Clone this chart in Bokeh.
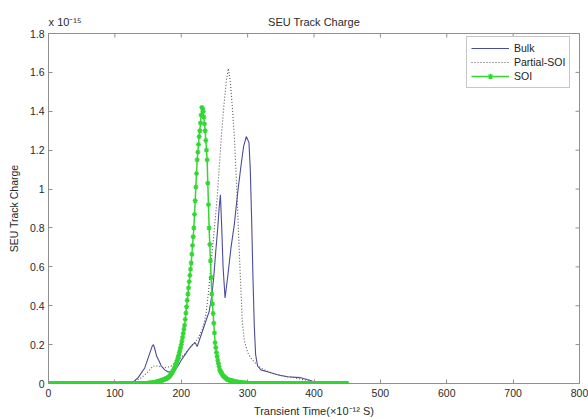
import math
from bokeh.plotting import figure
from bokeh.models import Range1d, FixedTicker, LinearAxis
from bokeh.embed import file_html
from bokeh.resources import INLINE

# ---------------- data (time in 1e-12 s, charge in 1e-15 units) ----------------
bulk_time = [0, 120, 127, 135, 145, 152, 156, 158, 160, 163, 166, 170, 175, 180, 188,
             195, 200, 206, 212, 217, 221, 224, 228, 232, 237, 242, 246, 249, 252, 255,
             257, 259, 261, 263, 266, 270, 275, 280, 285, 290, 294, 298, 302, 304, 306,
             308, 310, 312, 315, 320, 330, 345, 360, 380, 395, 405, 450]
bulk_charge = [0, 0, 0.005, 0.03, 0.08, 0.15, 0.19, 0.20, 0.18, 0.14, 0.12, 0.09, 0.07, 0.06, 0.06,
               0.09, 0.12, 0.15, 0.18, 0.20, 0.21, 0.19, 0.23, 0.27, 0.32, 0.37, 0.45, 0.55, 0.68, 0.80,
               0.90, 0.97, 0.80, 0.60, 0.44, 0.55, 0.70, 0.82, 0.98, 1.12, 1.22, 1.27, 1.24, 1.10, 0.85,
               0.55, 0.30, 0.15, 0.09, 0.07, 0.06, 0.045, 0.035, 0.03, 0.015, 0.0, 0.0]

psoi_time = [0, 120, 130, 140, 150, 158, 165, 175, 185, 195, 205, 215, 225, 232, 237,
             241, 245, 250, 254, 257, 260, 264, 268, 271, 274, 277, 280, 283, 286, 289,
             292, 295, 300, 305, 310, 320, 335, 350, 370, 390, 405, 450]
psoi_charge = [0, 0, 0.01, 0.03, 0.06, 0.09, 0.09, 0.08, 0.09, 0.12, 0.15, 0.19, 0.23, 0.28, 0.35,
               0.47, 0.62, 0.80, 0.95, 1.10, 1.25, 1.42, 1.56, 1.62, 1.55, 1.42, 1.27, 1.05, 0.80, 0.55,
               0.32, 0.22, 0.16, 0.13, 0.11, 0.08, 0.055, 0.04, 0.03, 0.015, 0.0, 0.0]

soi_time = list(range(0, 451))
soi_flat_before = [0.0] * 150          # t = 0 .. 149
soi_rise_low = [0.001, 0.001, 0.002, 0.002, 0.002, 0.003, 0.003, 0.004, 0.004, 0.005,
                0.005, 0.006, 0.007, 0.008, 0.009, 0.010, 0.011, 0.012, 0.013, 0.014,
                0.015, 0.016, 0.018, 0.019, 0.021, 0.022, 0.024, 0.025, 0.027, 0.028]  # 150 .. 179
soi_peak = [0.030, 0.033, 0.036, 0.040, 0.045, 0.050, 0.055, 0.061, 0.067, 0.073,
            0.080, 0.089, 0.099, 0.109, 0.119, 0.130, 0.143, 0.157, 0.171, 0.185,
            0.200, 0.218, 0.238, 0.258, 0.279, 0.300, 0.330, 0.362, 0.395, 0.428,
            0.460, 0.492, 0.524, 0.556, 0.588, 0.620, 0.665, 0.710, 0.755, 0.800,
            0.870, 0.940, 1.010, 1.080, 1.150, 1.190, 1.230, 1.270, 1.300, 1.340,
            1.380, 1.420, 1.415, 1.400, 1.370, 1.335, 1.300, 1.250, 1.200, 1.150,
            1.030, 0.920, 0.800, 0.715, 0.630, 0.545, 0.460, 0.410, 0.360, 0.310,
            0.260, 0.210, 0.185, 0.160, 0.140, 0.120, 0.103, 0.087, 0.070, 0.064,
            0.058, 0.052, 0.046, 0.040, 0.037, 0.034, 0.031, 0.028, 0.025, 0.022,
            0.020]  # 180 .. 270
soi_tail = [0.019, 0.018, 0.017, 0.016, 0.015, 0.014, 0.013, 0.012, 0.011, 0.010,
            0.009, 0.009, 0.008, 0.007, 0.007, 0.006, 0.006, 0.005, 0.005, 0.004,
            0.004, 0.003, 0.003, 0.003, 0.002, 0.002, 0.002, 0.001, 0.001, 0.001]  # 271 .. 300
soi_flat_after = [0.0] * 150           # 301 .. 450
soi_charge = soi_flat_before + soi_rise_low + soi_peak + soi_tail + soi_flat_after

x_ticks = [0, 100, 200, 300, 400, 500, 600, 700, 800]
y_ticks = [0, 0.2, 0.4, 0.6, 0.8, 1, 1.2, 1.4, 1.6, 1.8]
y_tick_labels = ["0", "0.2", "0.4", "0.6", "0.8", "1", "1.2", "1.4", "1.6", "1.8"]
x_min, x_max = 0, 800
y_min, y_max = 0, 1.8

title_text = "SEU Track Charge"
x_label = "Transient Time(×10⁻¹² S)"
y_label = "SEU Track Charge"
y_multiplier = "x 10⁻¹⁵"

# ---------------- styling ----------------
FONT = "Liberation Sans"
AXIS_COLOR = "#8f8f8f"
TEXT_COLOR = "#2a2a2a"
BULK_COLOR = "#4b4b9b"
PSOI_COLOR = "#555555"
SOI_COLOR = "#33d633"

p = figure(frame_width=531, frame_height=350,
           x_range=Range1d(x_min, x_max), y_range=Range1d(y_min, y_max),
           output_backend="svg", toolbar_location=None,
           min_border_left=48, min_border_right=9, min_border_top=33, min_border_bottom=36)

p.xgrid.visible = False
p.ygrid.visible = False
p.outline_line_color = AXIS_COLOR
p.background_fill_color = "white"
p.border_fill_color = "white"
p.title.visible = False

def style_axis(ax):
    ax.axis_line_color = AXIS_COLOR
    ax.major_tick_line_color = AXIS_COLOR
    ax.major_tick_in = 4
    ax.major_tick_out = 0
    ax.minor_tick_line_color = None
    ax.major_label_text_font = FONT
    ax.major_label_text_font_size = "10.5px"
    ax.major_label_text_color = TEXT_COLOR
    ax.axis_label_text_font = FONT
    ax.axis_label_text_font_style = "normal"
    ax.axis_label_text_color = TEXT_COLOR

xa = p.xaxis[0]
xa.ticker = FixedTicker(ticks=x_ticks)
style_axis(xa)
xa.major_label_standoff = 5
xa.axis_label = x_label
xa.axis_label_text_font_size = "11px"
xa.axis_label_standoff = 5

ya = p.yaxis[0]
ya.ticker = FixedTicker(ticks=y_ticks)
style_axis(ya)
ya.major_label_overrides = {t: s for t, s in zip(y_ticks, y_tick_labels)}
ya.major_label_standoff = 4
ya.axis_label = y_label
ya.axis_label_text_font_size = "10.5px"
ya.axis_label_standoff = 7

# header row above the box: exponent of the y axis (left) and the chart title (centre)
mult_pos = 25
title_pos = (x_min + x_max) / 2
top_ax = LinearAxis(ticker=FixedTicker(ticks=[mult_pos, title_pos]),
                    major_label_overrides={mult_pos: y_multiplier, title_pos: title_text})
top_ax.axis_line_color = None
top_ax.major_tick_line_color = None
top_ax.minor_tick_line_color = None
top_ax.major_tick_in = 0
top_ax.major_tick_out = 0
top_ax.major_label_standoff = 6
top_ax.major_label_text_font = FONT
top_ax.major_label_text_font_size = "11px"
top_ax.major_label_text_color = TEXT_COLOR
p.add_layout(top_ax, "above")

# inward tick marks on the top and right edges of the box (clipped to the frame)
p.scatter(x_ticks, [y_max] * len(x_ticks), marker="dash", angle=math.pi / 2, size=8,
          line_color=AXIS_COLOR, line_width=1)
p.scatter([x_max] * len(y_ticks), y_ticks, marker="dash", size=8,
          line_color=AXIS_COLOR, line_width=1)

# ---------------- series ----------------
p.line(bulk_time, bulk_charge, line_color=BULK_COLOR, line_width=1.1, legend_label="Bulk")
p.line(psoi_time, psoi_charge, line_color=PSOI_COLOR, line_width=1.1, line_dash="1 2",
       legend_label="Partial-SOI")
p.line(soi_time, soi_charge, line_color=SOI_COLOR, line_width=1.5, legend_label="SOI")
p.scatter(soi_time, soi_charge, marker="asterisk", size=5, line_color=SOI_COLOR,
          line_width=1.2, legend_label="SOI")

lg = p.legend[0]
lg.location = (418, 295)
lg.border_line_color = AXIS_COLOR
lg.border_line_width = 1
lg.background_fill_color = "white"
lg.label_text_font = FONT
lg.label_text_font_size = "10.5px"
lg.label_text_color = "#222222"
lg.glyph_width = 38
lg.glyph_height = 14
lg.label_height = 14
lg.label_standoff = 5
lg.spacing = 0
lg.padding = 4
lg.margin = 0

open("out.html", "w").write(file_html(p, INLINE))
